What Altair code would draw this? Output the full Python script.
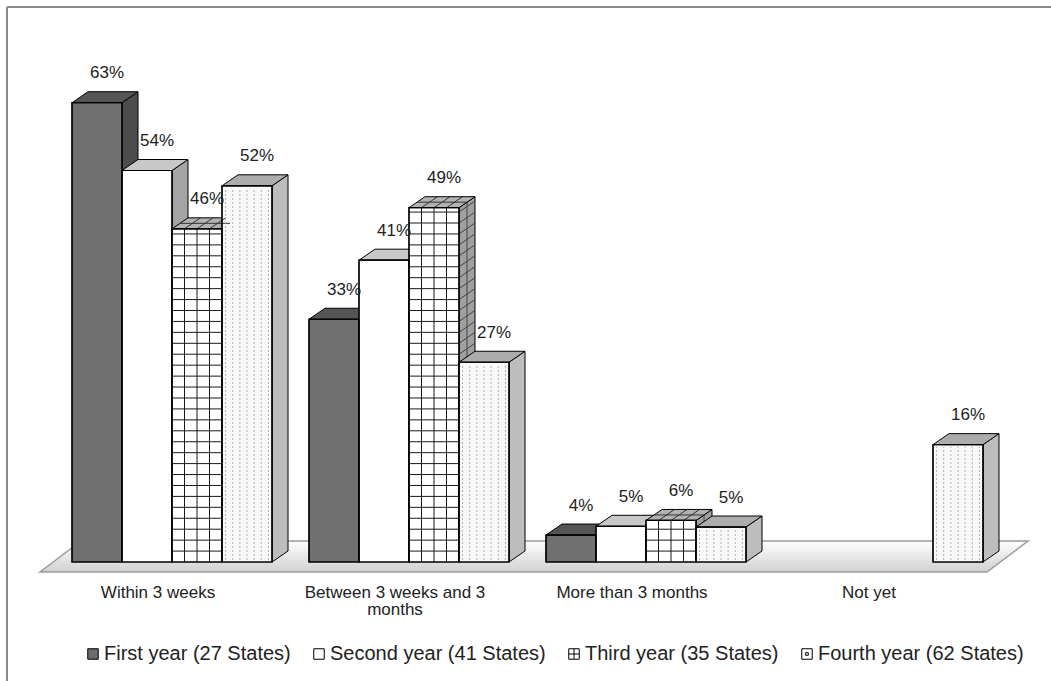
import altair as alt
import pandas as pd

# ---------------- data ----------------
CATEGORIES = ["Within 3 weeks", "Between 3 weeks and 3\nmonths", "More than 3 months", "Not yet"]
SERIES = ["First year (27 States)", "Second year (41 States)",
          "Third year (35 States)", "Fourth year (62 States)"]
FIRST_YEAR = [63.0, 33.3, 3.7, 0.0]
SECOND_YEAR = [53.7, 41.4, 4.9, 0.0]
THIRD_YEAR = [45.7, 48.6, 5.7, 0.0]
FOURTH_YEAR = [51.6, 27.4, 4.8, 16.1]
VALUES = [FIRST_YEAR, SECOND_YEAR, THIRD_YEAR, FOURTH_YEAR]

# ---------------- geometry / styling ----------------
W, H = 1051, 681
GROUP_STEP = 4.74          # in bar widths
DX, DY = 0.32, 1.51        # 3-D depth offset (x in bar widths, y in %)
X_DOMAIN = [-1.44, 19.58]
Y_DOMAIN = [-16.32, 77.09]
FONT = "Liberation Sans"

FRONT = ["#707070", "#ffffff", "#ffffff", "#f8f8f8"]
TOP = ["#555555", "#c8c8c8", "#b2b2b2", "#acacac"]
SIDE = ["#4c4c4c", "#a4a4a4", "#a0a0a0", "#bdbdbd"]
SWATCH = ["#6c6c6c", "#ffffff", "#ffffff", "#ffffff"]
SHAPES = ["square", "square",
          "M-1,-1H1V1H-1Z M0,-1V1 M-1,0H1",
          "M-1,-1H1V1H-1Z M-0.25,-0.25H0.25V0.25H-0.25Z"]

xs = alt.Scale(domain=X_DOMAIN, nice=False, zero=False)
ys = alt.Scale(domain=Y_DOMAIN, nice=False, zero=False)


def X(f):
    return alt.X(f"{f}:Q", scale=xs, axis=None)


def Y(f):
    return alt.Y(f"{f}:Q", scale=ys, axis=None)


# ---------------- derived tables ----------------
bars, tops, sides, grid_back, grid_front, dots, legend_pts = [], [], [], [], [], [], []
for i, cat in enumerate(CATEGORIES):
    for j, ser in enumerate(SERIES):
        v = VALUES[j][i]
        if v <= 0:
            continue
        u0 = i * GROUP_STEP + j
        u1 = u0 + 1
        bid = f"{i}-{j}"
        bars.append(dict(id=bid, series=ser, u0=u0, u1=u1, uc=u0 + 0.5, v=v, zero=0.0,
                         label=f"{v:.0f}%", fill=FRONT[j]))
        tops.append(dict(id=bid, y=v, xa=u0, xb=u1, fill=TOP[j]))
        tops.append(dict(id=bid, y=v + DY, xa=u0 + DX, xb=u1 + DX, fill=TOP[j]))
        sides.append(dict(id=bid, x=u1, ya=0.0, yb=v, fill=SIDE[j]))
        sides.append(dict(id=bid, x=u1 + DX, ya=DY, yb=v + DY, fill=SIDE[j]))
        if i == 0:
            legend_pts.append(dict(series=ser, x=u0 + 0.5, y=v / 2))
        if j == 2:  # grid pattern of the third year
            for k in (1, 2, 3):
                xk = u0 + k / 4
                grid_front.append(dict(x=xk, x2=xk, y=0.0, y2=v, c="#1a1a1a"))
                grid_front.append(dict(x=xk, x2=xk + DX, y=v, y2=v + DY, c="#333333"))
            grid_front.append(dict(x=u0 + DX / 2, x2=u1 + DX / 2, y=v + DY / 2, y2=v + DY / 2, c="#333333"))
            grid_back.append(dict(x=u1 + DX / 2, x2=u1 + DX / 2, y=DY / 2, y2=v + DY / 2, c="#444444"))
            yk = 1.5
            while yk < v - 0.3:
                grid_front.append(dict(x=u0, x2=u1, y=yk, y2=yk, c="#1a1a1a"))
                grid_back.append(dict(x=u1, x2=u1 + DX, y=yk, y2=yk + DY, c="#444444"))
                yk += 1.5
        if j == 3:  # dotted pattern of the fourth year
            for k in range(7):
                xk = u0 + (k + 0.5) / 7
                dots.append(dict(x=xk, y=0.3, y2=v - 0.3))

bars_df = pd.DataFrame(bars)
cats_df = pd.DataFrame(dict(cat=CATEGORIES,
                            x=[i * GROUP_STEP + 2 for i in range(len(CATEGORIES))],
                            zero=[0.0] * len(CATEGORIES)))
floor_df = pd.DataFrame(dict(fy=[-1.37, 2.88], fa=[-0.64, 0.18], fb=[18.30, 19.12]))
one = pd.DataFrame(dict(a=[0]))

# ---------------- layers ----------------
border_top = alt.Chart(one).mark_rule(color="#8c8c8c", strokeWidth=2).encode(
    x=alt.value(7), x2=alt.value(W), y=alt.value(7))
border_left = alt.Chart(one).mark_rule(color="#8c8c8c", strokeWidth=2).encode(
    x=alt.value(7), y=alt.value(7), y2=alt.value(H))

floor = alt.Chart(floor_df).mark_area(
    orient="horizontal",
    fill=alt.Gradient(gradient="linear",
                      stops=[alt.GradientStop(color="#ffffff", offset=0),
                             alt.GradientStop(color="#d0d0d0", offset=1)],
                      x1=0, x2=0, y1=0, y2=1),
    stroke="#9a9a9a", strokeWidth=1.5,
).encode(y=Y("fy"), x=X("fa"), x2=alt.X2("fb"))

legend_layer = alt.Chart(pd.DataFrame(legend_pts)).mark_point(
    filled=True, size=100, stroke="black", strokeWidth=1, opacity=1
).encode(
    x=X("x"), y=Y("y"),
    color=alt.Color("series:N", scale=alt.Scale(domain=SERIES, range=SWATCH),
                    legend=alt.Legend(
                        title=None, orient="none", legendX=83, legendY=644,
                        direction="horizontal", columns=4, columnPadding=18,
                        labelFont=FONT, labelFontSize=20, labelColor="#222222",
                        labelLimit=0, labelOffset=1, symbolSize=110,
                        symbolStrokeColor="black", symbolStrokeWidth=1)),
    shape=alt.Shape("series:N", scale=alt.Scale(domain=SERIES, range=SHAPES)),
)

side_layer = alt.Chart(pd.DataFrame(sides)).mark_area(
    orient="vertical", stroke="black", strokeWidth=1
).encode(x=X("x"), y=Y("ya"), y2=alt.Y2("yb"), detail="id:N",
         fill=alt.Fill("fill:N", scale=None))

grid_back_layer = alt.Chart(pd.DataFrame(grid_back)).mark_rule(strokeWidth=1).encode(
    x=X("x"), x2=alt.X2("x2"), y=Y("y"), y2=alt.Y2("y2"),
    color=alt.Color("c:N", scale=None))

top_layer = alt.Chart(pd.DataFrame(tops)).mark_area(
    orient="horizontal", stroke="black", strokeWidth=1
).encode(y=Y("y"), x=X("xa"), x2=alt.X2("xb"), detail="id:N",
         fill=alt.Fill("fill:N", scale=None))

front_layer = alt.Chart(bars_df).mark_rect(stroke="black", strokeWidth=1.2).encode(
    x=X("u0"), x2=alt.X2("u1"), y=Y("zero"), y2=alt.Y2("v"),
    fill=alt.Fill("fill:N", scale=None))

grid_front_layer = alt.Chart(pd.DataFrame(grid_front)).mark_rule(strokeWidth=1).encode(
    x=X("x"), x2=alt.X2("x2"), y=Y("y"), y2=alt.Y2("y2"),
    color=alt.Color("c:N", scale=None))

dot_layer = alt.Chart(pd.DataFrame(dots)).mark_rule(
    strokeWidth=1, color="#9c9c9c", strokeDash=[1.5, 2.5]
).encode(x=X("x"), y=Y("y"), y2=alt.Y2("y2"))

# re-stroke front outlines on top of the patterns
front_outline = alt.Chart(bars_df).mark_rect(
    fill="transparent", stroke="black", strokeWidth=1.2
).encode(x=X("u0"), x2=alt.X2("u1"), y=Y("zero"), y2=alt.Y2("v"))

value_labels = alt.Chart(bars_df).mark_text(
    font=FONT, fontSize=17, color="#222222", align="center",
    baseline="alphabetic", dx=10, dy=-24.5
).encode(x=X("uc"), y=Y("v"), text="label:N")

cat_labels = alt.Chart(cats_df).mark_text(
    font=FONT, fontSize=17, color="#222222", align="center",
    baseline="alphabetic", dx=-14, dy=35.5, lineBreak="\n", lineHeight=17
).encode(x=X("x"), y=Y("zero"), text="cat:N")

chart = alt.layer(
    border_top, border_left, floor, legend_layer, side_layer, grid_back_layer,
    top_layer, front_layer, grid_front_layer, dot_layer,
    front_outline, value_labels, cat_labels,
).properties(
    width=W, height=H, padding=0,
    autosize=alt.AutoSizeParams(type="none"),
).configure_view(strokeWidth=0)

chart.save("out.html", embed_options={"renderer": "svg", "actions": False})
